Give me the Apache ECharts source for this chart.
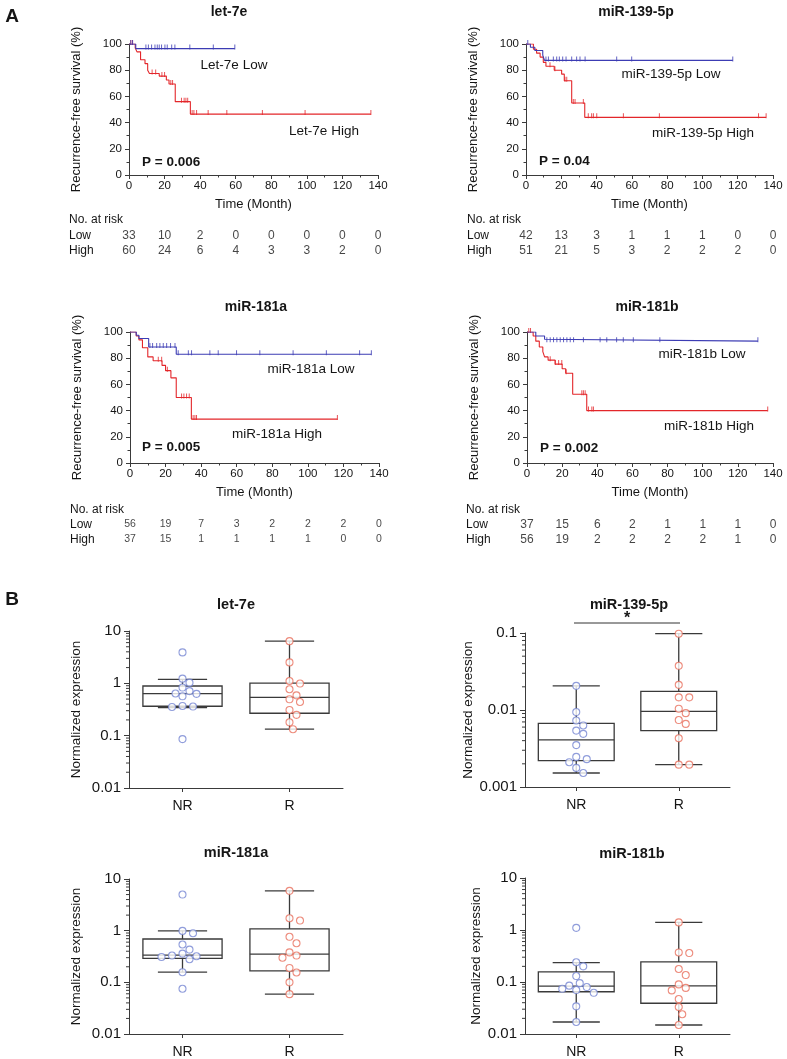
<!DOCTYPE html>
<html><head><meta charset="utf-8">
<script src="https://cdn.jsdelivr.net/npm/echarts@6/dist/echarts.min.js"></script>
<style>html,body{margin:0;padding:0;background:#fff}#c{width:787px;height:1059px}</style>
</head><body><div id="c"></div>
<script>
// ================= DATA =================
const kmTitles = ['let-7e', 'miR-139-5p', 'miR-181a', 'miR-181b'];
const kmPValues = ['P = 0.006', 'P = 0.04', 'P = 0.005', 'P = 0.002'];
const kmLowLabels = ['Let-7e Low', 'miR-139-5p Low', 'miR-181a Low', 'miR-181b Low'];
const kmHighLabels = ['Let-7e High', 'miR-139-5p High', 'miR-181a High', 'miR-181b High'];
const timeTicks = [0, 20, 40, 60, 80, 100, 120, 140];
const riskRows = ['No. at risk', 'Low', 'High'];

// Kaplan-Meier steps: [time (month), survival %]
const let7eLowSteps = [[0, 100], [3.8, 96.5]];
const let7eLowCensor = [1, 2, 9.5, 10.9, 12.7, 14.6, 15.9, 17, 18.3, 20.2, 21.5, 24, 25.8, 34.2, 47.4, 59.5];
const let7eHighSteps = [[0, 100], [3.5, 97], [4.5, 94], [6.5, 88], [9, 85], [10.5, 80], [11.5, 77.5], [17, 75.5], [21, 72.5], [22.5, 69.5], [26, 56], [34.5, 46.5]];
const let7eHighCensor = [1, 2, 13, 15, 18.5, 20, 23.5, 24.5, 29.5, 31, 32, 33, 35.5, 36.5, 38, 44.5, 55, 75, 99, 136];

const mir139LowSteps = [[0, 100], [2.5, 97.5], [5, 95], [9.5, 91.5], [10.5, 87.5]];
const mir139LowCensor = [1, 11.3, 12.7, 15.5, 17.4, 18.9, 20.8, 22.7, 25.9, 28.7, 30.6, 33.5, 51.4, 59.9, 117.2];
const mir139HighSteps = [[0, 100], [4.2, 96], [6, 93], [8, 90], [9.8, 86], [11.3, 83], [16, 80], [20.2, 77], [21.7, 72], [25.9, 55], [33.3, 44]];
const mir139HighCensor = [13.6, 16.4, 22.1, 23.1, 26.8, 27.8, 32.5, 35.3, 37.2, 38.2, 40.1, 55.2, 75.6, 131.8, 136.1];

const mir181aLowSteps = [[0, 100], [3.5, 97.5], [5, 95], [10.5, 88.5], [26, 83]];
const mir181aLowCensor = [11.2, 12.7, 15, 16.8, 18.7, 20.6, 22.8, 25.3, 27.1, 32.8, 34.6, 44.9, 49.6, 59.9, 73, 91.7, 110.4, 129.1, 135.7];
const mir181aHighSteps = [[0, 100], [3.5, 97], [5, 94], [7, 88], [10, 81], [13, 78], [18, 74.5], [20, 70.5], [23, 65], [26, 50], [34.5, 33.5]];
const mir181aHighCensor = [15.9, 17.8, 21, 29, 30.3, 31.8, 33.3, 35.5, 36.5, 37.4, 116.6];

const mir181bLowSteps = [[0, 100], [5, 97], [10, 94.5], [11, 93]];
const mir181bLowCensor = [11.3, 13.2, 15.1, 17, 18.9, 20.8, 22.7, 24.6, 26.5, 32.1, 41.6, 45.4, 51, 54.8, 60.5, 75.6, 131.4];
const mir181bHighSteps = [[0, 100], [3.5, 97], [5, 93], [7, 88.5], [9, 85], [10, 81], [12, 78.5], [16, 75.5], [20, 72], [22, 68.5], [26, 52.5], [34, 40]];
const mir181bHighCensor = [1, 2, 13.2, 16.1, 18, 19.8, 22.3, 31.2, 32.1, 33.1, 35, 36.9, 37.8, 137];

// Number at risk at timeTicks
const let7eRiskLow = [33, 10, 2, 0, 0, 0, 0, 0];
const let7eRiskHigh = [60, 24, 6, 4, 3, 3, 2, 0];
const mir139RiskLow = [42, 13, 3, 1, 1, 1, 0, 0];
const mir139RiskHigh = [51, 21, 5, 3, 2, 2, 2, 0];
const mir181aRiskLow = [56, 19, 7, 3, 2, 2, 2, 0];
const mir181aRiskHigh = [37, 15, 1, 1, 1, 1, 0, 0];
const mir181bRiskLow = [37, 15, 6, 2, 1, 1, 1, 0];
const mir181bRiskHigh = [56, 19, 2, 2, 2, 2, 1, 0];

// Box plots: stats [min, Q1, median, Q3, max] and points
const boxTitles = ['let-7e', 'miR-139-5p', 'miR-181a', 'miR-181b'];
const boxCategories = ['NR', 'R'];
const let7eNRStats = [0.344, 0.365, 0.635, 0.89, 1.19];
const let7eRStats = [0.133, 0.268, 0.54, 1.01, 6.4];
const let7eNRPoints = [3.9, 1.23, 1.03, 0.83, 0.71, 0.64, 0.63, 0.565, 0.37, 0.36, 0.354, 0.086];
const let7eRPoints = [6.4, 2.51, 1.11, 0.99, 0.77, 0.59, 0.495, 0.44, 0.31, 0.25, 0.18, 0.133];

const mir139NRStats = [0.00152, 0.0022, 0.0041, 0.0067, 0.0206];
const mir139RStats = [0.00195, 0.0054, 0.0096, 0.0175, 0.098];
const mir139NRPoints = [0.0206, 0.0094, 0.0073, 0.0063, 0.0054, 0.0049, 0.0035, 0.00246, 0.0023, 0.0021, 0.00177, 0.00152];
const mir139RPoints = [0.098, 0.0375, 0.0212, 0.0146, 0.0146, 0.0104, 0.0091, 0.0074, 0.0066, 0.0043, 0.00195, 0.00195];

const mir181aNRStats = [0.157, 0.29, 0.336, 0.69, 0.99];
const mir181aRStats = [0.059, 0.166, 0.35, 1.08, 5.9];
const mir181aNRPoints = [5.0, 0.99, 0.89, 0.54, 0.43, 0.36, 0.33, 0.32, 0.31, 0.28, 0.157, 0.075];
const mir181aRPoints = [5.9, 1.74, 1.57, 0.76, 0.57, 0.38, 0.33, 0.30, 0.19, 0.155, 0.1, 0.059];

const mir181bNRStats = [0.017, 0.065, 0.083, 0.156, 0.235];
const mir181bRStats = [0.0149, 0.039, 0.084, 0.243, 1.4];
const mir181bNRPoints = [1.1, 0.24, 0.20, 0.13, 0.095, 0.085, 0.08, 0.074, 0.07, 0.062, 0.034, 0.017];
const mir181bRPoints = [1.4, 0.37, 0.36, 0.178, 0.136, 0.09, 0.077, 0.069, 0.047, 0.033, 0.024, 0.0149];

const boxYMin = [0.01, 0.001, 0.01, 0.01];
const boxYMax = [10, 0.1, 10, 10];

// ================= LAYOUT / STYLE =================
const FONT = 'Liberation Sans, Arial, Helvetica, sans-serif';
const TXT = '#151515';
const AX = '#3a3a3a';
const BLUE = '#3c3cb4';
const RED = '#e3262a';
const PBLUE = '#7484d2';
const PRED = '#e86f5c';

const km = [
  {low: let7eLowSteps, lowC: let7eLowCensor, high: let7eHighSteps, highC: let7eHighCensor, rl: let7eRiskLow, rh: let7eRiskHigh},
  {low: mir139LowSteps, lowC: mir139LowCensor, high: mir139HighSteps, highC: mir139HighCensor, rl: mir139RiskLow, rh: mir139RiskHigh},
  {low: mir181aLowSteps, lowC: mir181aLowCensor, high: mir181aHighSteps, highC: mir181aHighCensor, rl: mir181aRiskLow, rh: mir181aRiskHigh},
  {low: mir181bLowSteps, lowC: mir181bLowCensor, high: mir181bHighSteps, highC: mir181bHighCensor, rl: mir181bRiskLow, rh: mir181bRiskHigh}
];
const boxes = [
  {nrS: let7eNRStats, rS: let7eRStats, nrP: let7eNRPoints, rP: let7eRPoints},
  {nrS: mir139NRStats, rS: mir139RStats, nrP: mir139NRPoints, rP: mir139RPoints},
  {nrS: mir181aNRStats, rS: mir181aRStats, nrP: mir181aNRPoints, rP: mir181aRPoints},
  {nrS: mir181bNRStats, rS: mir181bRStats, nrP: mir181bNRPoints, rP: mir181bRPoints}
];

const kmGrid = [
  {left: 129, top: 44, width: 249, height: 131},
  {left: 526, top: 44, width: 247, height: 131},
  {left: 130, top: 332, width: 249, height: 131},
  {left: 527, top: 332, width: 246, height: 131}
];
const riskGrid = [
  {left: 129, top: 212, width: 249, height: 47, m: 60, fs: 12},
  {left: 526, top: 212, width: 247, height: 47, m: 59, fs: 12},
  {left: 130, top: 502, width: 249, height: 45, m: 60, fs: 10.5},
  {left: 527, top: 502, width: 246, height: 45, m: 61, fs: 12}
];
const boxGrid = [
  {left: 129, top: 631, width: 214, height: 157, ng: 46},
  {left: 525, top: 633, width: 205, height: 154, ng: 42},
  {left: 129, top: 879, width: 214, height: 155, ng: 46},
  {left: 525, top: 878, width: 205, height: 156, ng: 42}
];

function survAt(steps, t) {
  let s = steps[0][1];
  for (const p of steps) { if (p[0] <= t) s = p[1]; }
  return s;
}
function swarm(values, pxPerDecade, D, step) {
  const placed = [];
  return values.map(v => {
    const y = -Math.log10(v) * pxPerDecade;
    let off = 0;
    for (let i = 0; i < 40; i++) {
      off = i === 0 ? 0 : (i % 2 ? 1 : -1) * Math.ceil(i / 2) * step;
      if (placed.every(p => (p[0] - off) ** 2 + (p[1] - y) ** 2 >= D * D)) break;
    }
    placed.push([off, y]);
    return off;
  });
}
function logLabel(v) {
  const e = Math.round(Math.log10(v));
  return e >= 0 ? String(Math.pow(10, e)) : Math.pow(10, e).toFixed(-e);
}

const grids = [], xAxes = [], yAxes = [], series = [], graphics = [];
const axisBase = {
  axisLine: {show: true, onZero: false, lineStyle: {color: AX, width: 1}},
  axisTick: {show: true, length: 4, lineStyle: {color: AX}},
  splitLine: {show: false},
};

// ---- KM panels ----
km.forEach((d, i) => {
  const gi = grids.length;
  grids.push(kmGrid[i]);
  xAxes.push(Object.assign({}, axisBase, {
    type: 'value', gridIndex: gi, min: 0, max: 140, interval: 20,
    minorTick: {show: true, splitNumber: 2, length: 2.5, lineStyle: {color: AX}},
    axisLabel: {fontSize: 11.5, color: TXT, fontFamily: FONT, margin: 5},
    name: 'Time (Month)', nameLocation: 'middle', nameGap: 23,
    nameTextStyle: {fontSize: 13, color: TXT, fontFamily: FONT}
  }));
  yAxes.push(Object.assign({}, axisBase, {
    type: 'value', gridIndex: gi, min: 0, max: 100, interval: 20,
    minorTick: {show: true, splitNumber: 2, length: 2.5, lineStyle: {color: AX}},
    axisLabel: {fontSize: 11.5, color: TXT, fontFamily: FONT, margin: 7},
    name: 'Recurrence-free survival (%)', nameLocation: 'middle', nameGap: 46,
    nameTextStyle: {fontSize: 13, color: TXT, fontFamily: FONT}
  }));
  const lowEnd = Math.max(...d.lowC), highEnd = Math.max(...d.highC);
  const lowLine = d.low.concat([[lowEnd, d.low[d.low.length - 1][1]]]);
  const highLine = d.high.concat([[highEnd, d.high[d.high.length - 1][1]]]);
  series.push({type: 'line', xAxisIndex: gi, yAxisIndex: gi, step: 'end', symbol: 'none', data: highLine,
    lineStyle: {color: RED, width: 1.1}, z: 3});
  series.push({type: 'line', xAxisIndex: gi, yAxisIndex: gi, step: 'end', symbol: 'none', data: lowLine,
    lineStyle: {color: BLUE, width: 1.1}, z: 4});
  series.push({type: 'scatter', xAxisIndex: gi, yAxisIndex: gi, symbol: 'rect', symbolSize: [1, 5], symbolOffset: [0, -1.5],
    data: d.highC.map(t => [t, survAt(d.high, t)]), itemStyle: {color: RED}, z: 3});
  series.push({type: 'scatter', xAxisIndex: gi, yAxisIndex: gi, symbol: 'rect', symbolSize: [1, 5], symbolOffset: [0, -1.5],
    data: d.lowC.map(t => [t, survAt(d.low, t)]), itemStyle: {color: BLUE}, z: 4});

  // risk table
  const ri = grids.length;
  const rg = riskGrid[i];
  grids.push({left: rg.left, top: rg.top, width: rg.width, height: rg.height});
  xAxes.push({type: 'value', gridIndex: ri, min: 0, max: 140, show: false});
  yAxes.push({type: 'category', gridIndex: ri, data: riskRows, inverse: true,
    axisLine: {show: false}, axisTick: {show: false}, splitLine: {show: false},
    axisLabel: {interval: 0, align: 'left', margin: rg.m, fontSize: 12, color: TXT, fontFamily: FONT}});
  const rows = [];
  timeTicks.forEach((t, k) => {
    rows.push({value: [t, 1, d.rl[k]]});
    rows.push({value: [t, 2, d.rh[k]]});
  });
  series.push({type: 'scatter', xAxisIndex: ri, yAxisIndex: ri, symbolSize: 1, itemStyle: {color: 'rgba(0,0,0,0)'},
    data: rows, label: {show: true, position: 'inside', formatter: p => String(p.value[2]),
      fontSize: rg.fs, color: TXT, fontFamily: FONT}});
});

// ---- Box plots ----
boxes.forEach((b, i) => {
  const gi = grids.length;
  const g = boxGrid[i];
  grids.push(g);
  xAxes.push(Object.assign({}, axisBase, {
    type: 'category', gridIndex: gi, data: boxCategories,
    axisTick: {show: true, alignWithLabel: true, length: 4, lineStyle: {color: AX}},
    axisLabel: {fontSize: 14, color: TXT, fontFamily: FONT, margin: 11}
  }));
  yAxes.push(Object.assign({}, axisBase, {
    type: 'log', logBase: 10, gridIndex: gi, min: boxYMin[i], max: boxYMax[i],
    axisTick: {show: true, length: 5, lineStyle: {color: AX}},
    axisLabel: {fontSize: 15, color: TXT, fontFamily: FONT, margin: 8, formatter: logLabel},
    name: 'Normalized expression', nameLocation: 'middle', nameGap: g.ng,
    nameTextStyle: {fontSize: 13.5, color: TXT, fontFamily: FONT}
  }));
  // minor log ticks
  const minors = [];
  const e0 = Math.round(Math.log10(boxYMin[i])), e1 = Math.round(Math.log10(boxYMax[i]));
  for (let e = e0; e < e1; e++) for (let k = 2; k <= 9; k++) minors.push([0, k * Math.pow(10, e)]);
  series.push({type: 'custom', xAxisIndex: gi, yAxisIndex: gi, data: minors, silent: true,
    renderItem: (params, api) => {
      const p0 = api.coord([0, api.value(1)]);
      const p1 = api.coord([1, api.value(1)]);
      const x = p0[0] - (p1[0] - p0[0]) / 2;
      return {type: 'line', shape: {x1: x - 3, y1: p0[1], x2: x, y2: p0[1]}, style: {stroke: AX, lineWidth: 1}};
    }});
  // boxes
  series.push({type: 'custom', xAxisIndex: gi, yAxisIndex: gi, z: 2,
    data: [[0].concat(b.nrS), [1].concat(b.rS)],
    renderItem: (params, api) => {
      const c = api.value(0);
      const v = [1, 2, 3, 4, 5].map(k => api.coord([c, api.value(k)]));
      const other = api.coord([c === 0 ? 1 : 0, api.value(3)]);
      const band = Math.abs(other[0] - v[0][0]);
      const x = v[0][0], hb = band * 0.37, hc = band * 0.23;
      const st = {stroke: '#3a3a3a', lineWidth: 1.3, fill: null};
      return {type: 'group', children: [
        {type: 'line', shape: {x1: x, y1: v[3][1], x2: x, y2: v[4][1]}, style: st},
        {type: 'line', shape: {x1: x, y1: v[1][1], x2: x, y2: v[0][1]}, style: st},
        {type: 'line', shape: {x1: x - hc, y1: v[4][1], x2: x + hc, y2: v[4][1]}, style: st},
        {type: 'line', shape: {x1: x - hc, y1: v[0][1], x2: x + hc, y2: v[0][1]}, style: st},
        {type: 'rect', shape: {x: x - hb, y: v[3][1], width: 2 * hb, height: v[1][1] - v[3][1]}, style: {stroke: '#3a3a3a', lineWidth: 1.3, fill: 'rgba(0,0,0,0)'}},
        {type: 'line', shape: {x1: x - hb, y1: v[2][1], x2: x + hb, y2: v[2][1]}, style: st}
      ]};
    }});
  const ppd = g.height / (Math.log10(boxYMax[i]) - Math.log10(boxYMin[i]));
  const offNR = swarm(b.nrP, ppd, 7.5, 3.5);
  const offR = swarm(b.rP, ppd, 7.5, 3.5);
  series.push({type: 'scatter', xAxisIndex: gi, yAxisIndex: gi, z: 5, symbol: 'circle', symbolSize: 7,
    itemStyle: {color: '#fff', borderColor: PBLUE, borderWidth: 1.1},
    data: b.nrP.map((v, k) => ({value: [0, v], symbolOffset: [offNR[k], 0]}))});
  series.push({type: 'scatter', xAxisIndex: gi, yAxisIndex: gi, z: 5, symbol: 'circle', symbolSize: 7,
    itemStyle: {color: '#fff', borderColor: PRED, borderWidth: 1.1},
    data: b.rP.map((v, k) => ({value: [1, v], symbolOffset: [offR[k], 0]}))});
});

// ---- texts ----
function txt(t, x, y, size, bold, align) {
  graphics.push({type: 'text', x: x, y: y, silent: true, style: {text: t, fontSize: size, fontWeight: bold ? 'bold' : 'normal',
    fontFamily: FONT, fill: TXT, align: align || 'center', verticalAlign: 'middle'}});
}
txt('A', 12, 17, 19, true);
txt('B', 12, 600, 19, true);
const kmTitlePos = [[229, 12], [636, 12], [256, 307], [647, 307]];
const pPos = [[142, 162], [539, 161], [142, 447], [540, 448]];
const lowPos = [[234, 65], [671, 74], [311, 369], [702, 354]];
const highPos = [[324, 131], [703, 133], [277, 434], [709, 426]];
for (let i = 0; i < 4; i++) {
  txt(kmTitles[i], kmTitlePos[i][0], kmTitlePos[i][1], 14, true);
  txt(kmPValues[i], pPos[i][0], pPos[i][1], 13.5, true, 'left');
  txt(kmLowLabels[i], lowPos[i][0], lowPos[i][1], 13.5, false);
  txt(kmHighLabels[i], highPos[i][0], highPos[i][1], 13.5, false);
}
const boxTitlePos = [[236, 605], [629, 605], [236, 853], [632, 854]];
for (let i = 0; i < 4; i++) txt(boxTitles[i], boxTitlePos[i][0], boxTitlePos[i][1], 14.5, true);
// significance bar for miR-139-5p
graphics.push({type: 'line', silent: true, shape: {x1: 574, y1: 623, x2: 680, y2: 623}, style: {stroke: '#333', lineWidth: 1}});
txt('*', 627, 619, 16, true);

const chart = echarts.init(document.getElementById('c'), null, {renderer: 'canvas'});
chart.setOption({
  animation: false,
  backgroundColor: '#fff',
  grid: grids.map(g => ({left: g.left, top: g.top, width: g.width, height: g.height, containLabel: false})),
  xAxis: xAxes, yAxis: yAxes, series: series, graphic: graphics
});
</script></body></html>
